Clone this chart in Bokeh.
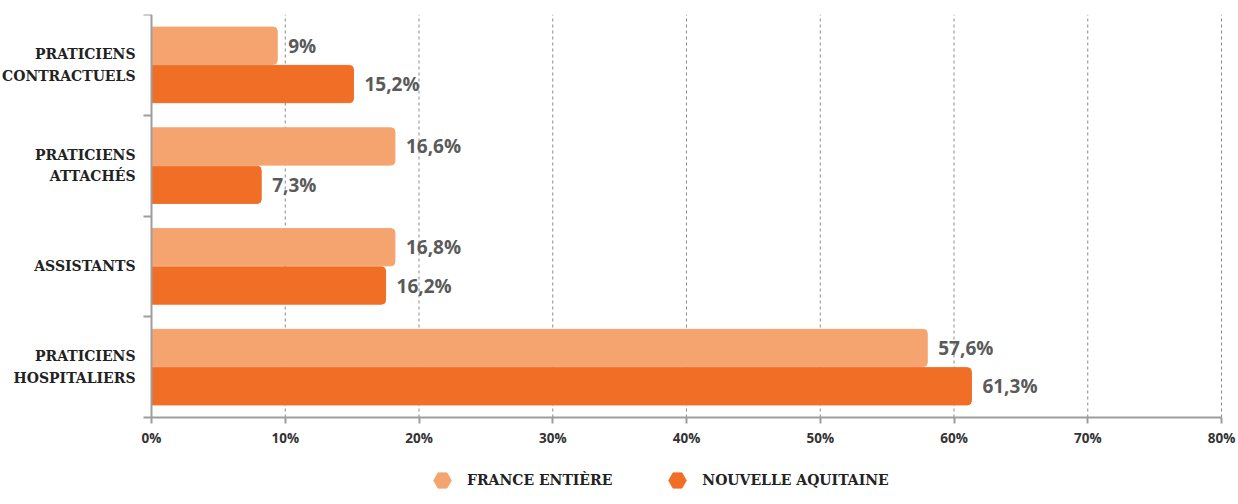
from bokeh.plotting import figure
from bokeh.models import ColumnDataSource, Range1d, FixedTicker, Legend, LegendItem
from bokeh.transform import dodge
from bokeh.core.properties import value
from bokeh.embed import file_html
from bokeh.resources import INLINE

# Data (bottom to top)
categories = ["PRATICIENS\nHOSPITALIERS", "ASSISTANTS", "PRATICIENS\nATTACHÉS", "PRATICIENS\nCONTRACTUELS"]
france = [58.0, 18.2, 18.2, 9.4]
nouvelle = [61.3, 17.5, 8.2, 15.1]
france_labels = ["57,6%", "16,8%", "16,6%", "9%"]
nouvelle_labels = ["61,3%", "16,2%", "7,3%", "15,2%"]
x_ticks = [0, 10, 20, 30, 40, 50, 60, 70, 80]
series_names = ["FRANCE ENTIÈRE", "NOUVELLE AQUITAINE"]

LIGHT = "#F5A470"
DARK = "#F06E26"

n = len(categories)
pos = list(range(n))
src = ColumnDataSource(dict(y=pos, france=france, nouvelle=nouvelle,
                            fl=france_labels, nl=nouvelle_labels))

# layout in pixels: category area 1070 x 403, extra room around it for labels/legend
LEFT_PX, PLOT_PX, RIGHT_PX = 151, 1070, 15
CAT_PX, FRAME_PX = 403, 488
x_min, x_max = x_ticks[0], x_ticks[-1]
px_per_unit = PLOT_PX / (x_max - x_min)
x_start = x_min - LEFT_PX / px_per_unit
x_end = x_max + RIGHT_PX / px_per_unit
y_top = n - 0.5
y_axis = -0.5
y_start = y_axis - n * (FRAME_PX - CAT_PX) / CAT_PX

p = figure(frame_width=LEFT_PX + PLOT_PX + RIGHT_PX, frame_height=FRAME_PX,
           x_range=Range1d(x_start, x_end), y_range=Range1d(y_start, y_top),
           output_backend="svg", toolbar_location=None,
           min_border_left=0, min_border_right=0, min_border_top=14,
           min_border_bottom=0)
p.outline_line_color = None

# dashed vertical grid lines limited to the category area
grid_x = x_ticks[1:]
p.segment(x0=grid_x, x1=grid_x, y0=[y_axis] * len(grid_x), y1=[y_top] * len(grid_x),
          line_color="#8a8a8a", line_dash="3 3", line_width=1)

p.hbar(y=dodge("y", 0.19, range=p.y_range), right="france", left=0, height=0.37,
       source=src, color=LIGHT, border_radius=(0, 4, 4, 0))
p.hbar(y=dodge("y", -0.19, range=p.y_range), right="nouvelle", left=0, height=0.37,
       source=src, color=DARK, border_radius=(0, 4, 4, 0))

for col, lab, off in (("france", "fl", 0.19), ("nouvelle", "nl", -0.19)):
    p.text(x=col, y=dodge("y", off, range=p.y_range), text=lab, source=src,
           x_offset=11, text_baseline="middle", text_align="left",
           text_font=value("Open Sans"), text_font_style="bold",
           text_font_size="19px", text_color="#5a5a5a")

# X axis (placed at the bottom of the category area)
p.xaxis.fixed_location = y_axis
p.xaxis.bounds = (x_min, x_max)
p.xaxis.ticker = FixedTicker(ticks=x_ticks)
p.xaxis.major_label_overrides = {t: f"{t}%" for t in x_ticks}
p.xaxis.major_tick_out = 6
p.xaxis.major_tick_in = 0
p.xaxis.minor_tick_line_color = None
p.xaxis.minor_tick_out = 0
p.xaxis.minor_tick_in = 0
p.xaxis.axis_line_width = 2
p.xaxis.axis_line_color = "#9d9d9d"
p.xaxis.major_tick_line_color = "#9d9d9d"
p.xaxis.major_tick_line_width = 2
p.xaxis.major_label_standoff = 5
p.xaxis.major_label_text_font = "Open Sans"
p.xaxis.major_label_text_font_style = "bold"
p.xaxis.major_label_text_font_size = "13.5px"
p.xaxis.major_label_text_color = "#333333"

# Y axis (placed at 0 %)
bounds = [i - 0.5 for i in range(n + 1)]
p.yaxis.fixed_location = x_min
p.yaxis.bounds = (y_axis, y_top)
p.yaxis.ticker = FixedTicker(ticks=pos, minor_ticks=bounds)
p.yaxis.major_label_overrides = {i: c for i, c in zip(pos, categories)}
p.yaxis.major_tick_line_color = None
p.yaxis.major_tick_out = 0
p.yaxis.major_tick_in = 0
p.yaxis.minor_tick_out = 8
p.yaxis.minor_tick_in = 0
p.yaxis.minor_tick_line_color = "#9d9d9d"
p.yaxis.minor_tick_line_width = 2
p.yaxis.axis_line_width = 2
p.yaxis.axis_line_color = "#9d9d9d"
p.yaxis.major_label_standoff = 8
p.yaxis.major_label_text_font = "DejaVu Serif"
p.yaxis.major_label_text_font_style = "bold"
p.yaxis.major_label_text_font_size = "14px"
p.yaxis.major_label_text_color = "#222222"
p.yaxis.major_label_text_line_height = 1.35

p.xgrid.grid_line_color = None
p.ygrid.grid_line_color = None

# Legend (inside the lower strip of the plot area)
r1 = p.scatter(x=[0], y=[y_start - 10], marker="hex", size=20, color=LIGHT)
r2 = p.scatter(x=[0], y=[y_start - 10], marker="hex", size=20, color=DARK)
legend = Legend(items=[LegendItem(label=series_names[0], renderers=[r1]),
                       LegendItem(label=series_names[1], renderers=[r2])],
                orientation="horizontal", location=(LEFT_PX + 266, 0),
                glyph_width=50, glyph_height=44, label_standoff=0, spacing=40,
                padding=0, margin=0, border_line_color=None,
                background_fill_alpha=0,
                label_text_font="DejaVu Serif", label_text_font_style="bold",
                label_text_font_size="14px", label_text_color="#222222")
p.add_layout(legend, "center")

open("out.html", "w").write(file_html(p, INLINE))
